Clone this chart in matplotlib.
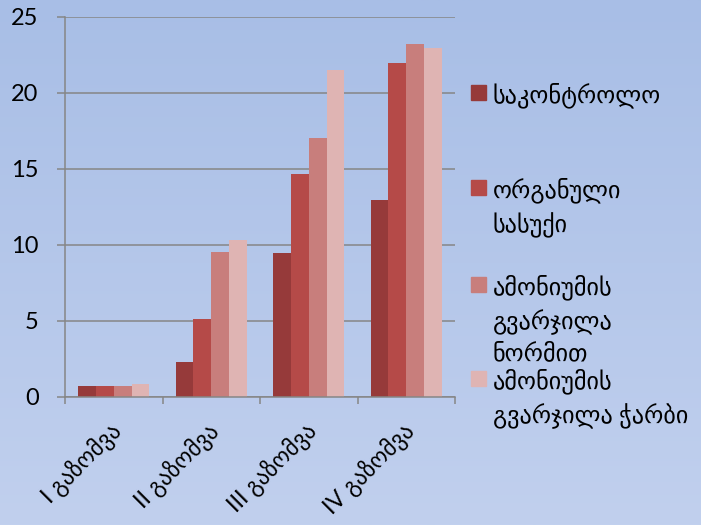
# -*- coding: utf-8 -*-
"""Grouped bar chart: four treatments over four measurements (Georgian labels)."""

import matplotlib
matplotlib.use("Agg")
import matplotlib.pyplot as plt
import numpy as np
from matplotlib.colors import LinearSegmentedColormap
from matplotlib.patches import Rectangle


# =============================================================================
# Data
# =============================================================================

CATEGORIES = ["I გაზომვა", "II გაზომვა", "III გაზომვა", "IV გაზომვა"]

SERIES_LABELS = [
    "საკონტროლო",
    "ორგანული\nსასუქი",
    "ამონიუმის\nგვარჯილა\nნორმით",
    "ამონიუმის\nგვარჯილა ჭარბი",
]

CONTROL = [0.66, 2.24, 9.42, 12.94]
ORGANIC = [0.68, 5.10, 14.67, 21.92]
AMMONIUM_NORM = [0.72, 9.51, 17.03, 23.20]
AMMONIUM_EXCESS = [0.81, 10.30, 21.51, 22.91]

Y_TICKS = [0, 5, 10, 15, 20, 25]

# =============================================================================
# Style
# =============================================================================

SERIES_COLORS = ["#963a3a", "#b54a48", "#c87e7c", "#dfb4b3"]
GRID_COLOR = "#868686"
BG_TOP = "#a8bee6"
BG_BOTTOM = "#c1d0ee"

FIG_W, FIG_H = 701, 525
DPI = 100
FONTS = ["Lato", "DejaVu Sans"]


def px_x(x):
    return x / FIG_W


def px_y(y):
    return 1 - y / FIG_H


def main():
    plt.rcParams["font.family"] = FONTS

    fig = plt.figure(figsize=(FIG_W / DPI, FIG_H / DPI), dpi=DPI)

    # gradient background
    bg = fig.add_axes([0, 0, 1, 1], zorder=-1)
    cmap = LinearSegmentedColormap.from_list("bg", [BG_BOTTOM, BG_TOP])
    bg.imshow(np.linspace(0, 1, 256).reshape(-1, 1), cmap=cmap, aspect="auto",
              origin="lower", extent=[0, 1, 0, 1])
    bg.set_axis_off()

    left, right, top, bottom = 65, 455, 16.7, 396.5
    ax = fig.add_axes([px_x(left), px_y(bottom),
                       px_x(right - left), (bottom - top) / FIG_H])
    ax.set_facecolor("none")

    series = [CONTROL, ORGANIC, AMMONIUM_NORM, AMMONIUM_EXCESS]
    x = np.arange(len(CATEGORIES))
    width = 0.73 / len(series)

    for i, values in enumerate(series):
        ax.bar(x + (i - 1.5) * width, values, width=width,
               color=SERIES_COLORS[i], linewidth=0, zorder=3)

    ax.set_xlim(-0.5, len(CATEGORIES) - 0.5)
    ax.set_ylim(0, 25)
    ax.set_yticks(Y_TICKS)
    ax.set_yticklabels([str(t) for t in Y_TICKS], fontsize=17)

    ax.set_xticks(np.arange(len(CATEGORIES) + 1) - 0.5)
    ax.set_xticklabels([])
    ax.set_xticks(x + 0.04, minor=True)
    ax.set_xticklabels(CATEGORIES, minor=True, rotation=45, ha="right",
                       va="center", rotation_mode="anchor", fontsize=16.5)

    ax.tick_params(axis="y", length=6, width=1.1, color=GRID_COLOR, pad=13)
    ax.tick_params(axis="x", which="major", length=5, width=1.1,
                   color=GRID_COLOR)
    ax.tick_params(axis="x", which="minor", length=0, pad=22)

    ax.yaxis.grid(True, color=GRID_COLOR, linewidth=1.1, zorder=0)
    ax.set_axisbelow(True)
    for side in ["top", "right"]:
        ax.spines[side].set_visible(False)
    for side in ["left", "bottom"]:
        ax.spines[side].set_color(GRID_COLOR)
        ax.spines[side].set_linewidth(1.1)
        ax.spines[side].set_zorder(4)

    # legend drawn by hand: PowerPoint style evenly spaced slots
    slot_tops = [85, 180, 277, 371]
    for i, label in enumerate(SERIES_LABELS):
        y0 = slot_tops[i]
        fig.add_artist(Rectangle((px_x(471), px_y(y0 + 15)), px_x(15),
                                 15 / FIG_H, transform=fig.transFigure,
                                 color=SERIES_COLORS[i]))
        fig.text(px_x(493), px_y(y0 - 3), label, fontsize=17.5, va="top",
                 ha="left", linespacing=1.48)

    fig.savefig("out.png", dpi=DPI)
    plt.close(fig)


if __name__ == "__main__":
    main()
